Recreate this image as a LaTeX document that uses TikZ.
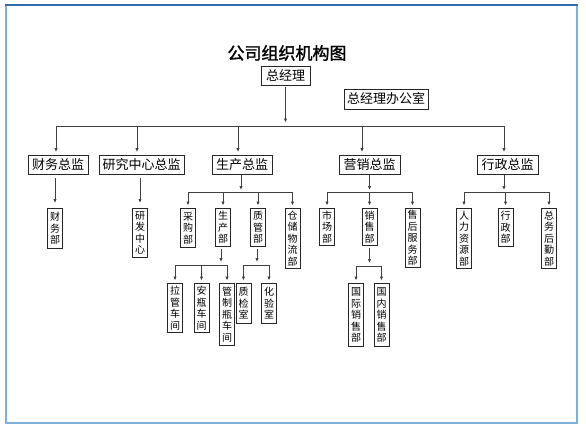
\documentclass[tikz,border=0pt]{standalone}
\usepackage{fontspec}
\setmainfont{Noto Sans CJK SC}
\newfontfamily\titlefont[FakeBold=1.6]{Noto Sans CJK SC}
\usetikzlibrary{arrows.meta}
\definecolor{framedark}{HTML}{2E6DAE}
\definecolor{framelight}{HTML}{7DB0DC}
\tikzset{
  hbox/.style={draw=black!85, line width=0.9pt, inner sep=0pt, minimum height=19pt,
    font=\fontsize{13}{14}\selectfont},
  vbox/.style={draw=black!85, line width=0.9pt, inner sep=0pt, minimum width=15pt,
    minimum height=#1, align=center, anchor=north, font=\fontsize{10}{11.5}\selectfont},
  conn/.style={draw=black!75, line width=0.8pt},
  arr/.style={conn, -{Latex[length=4pt,width=3.4pt]}},
}
\begin{document}
\begin{tikzpicture}[x=1pt,y=-1pt]
\useasboundingbox (0,0) rectangle (586,439);
% frame
\draw[framelight, line width=2pt] (6,5) -- (6,423) -- (577,423) -- (577,5);
\draw[framedark, line width=1.6pt] (5,5) -- (578,5);
% bus coordinates
\coordinate (bus1) at (0,126);
\coordinate (bus2) at (0,192);
\coordinate (bus3) at (0,265);
\coordinate (bus3b) at (0,266);
% title and top
\node[font=\fontsize{17}{18}\selectfont\titlefont] (title) at (287,53) {公司组织机构图};
\node[hbox, minimum width=49pt] (zjl) at (285.5,75.5) {总经理};
\node[hbox, minimum width=84pt, minimum height=20pt] (zjlb) at (386,99) {总经理办公室};
% level 2
\node[hbox, minimum width=60pt] (cw) at (58,164.5) {财务总监};
\node[hbox, minimum width=85pt] (yj) at (141.5,164.5) {研究中心总监};
\node[hbox, minimum width=60pt] (sc) at (242,164.5) {生产总监};
\node[hbox, minimum width=61pt] (yx) at (369.5,164.5) {营销总监};
\node[hbox, minimum width=61pt] (xz) at (507.5,164.5) {行政总监};
% level 3
\node[vbox=40pt] (cwb) at (55,208) {财\\务\\部};
\node[vbox=49pt] (yfzx) at (140,208) {研\\发\\中\\心};
\node[vbox=39pt] (cg) at (188,208) {采\\购\\部};
\node[vbox=38pt] (scb) at (223,208) {生\\产\\部};
\node[vbox=38pt] (zg) at (258,208) {质\\管\\部};
\node[vbox=60pt] (cc) at (292.5,208) {仓\\储\\物\\流\\部};
\node[vbox=37pt] (scc) at (327,208) {市\\场\\部};
\node[vbox=37pt] (xs) at (369.5,208) {销\\售\\部};
\node[vbox=59pt] (sh) at (412.5,208) {售\\后\\服\\务\\部};
\node[vbox=60pt] (rl) at (464,208) {人\\力\\资\\源\\部};
\node[vbox=38pt] (xzb) at (505.5,208) {行\\政\\部};
\node[vbox=60pt] (zw) at (549,208) {总\\务\\后\\勤\\部};
% level 4
\node[vbox=49pt] (lg) at (175,283) {拉\\管\\车\\间};
\node[vbox=49pt] (ap) at (201.5,283) {安\\瓶\\车\\间};
\node[vbox=62pt] (gz) at (227,283) {管\\制\\瓶\\车\\间};
\node[vbox=40pt] (zj) at (243.5,283) {质\\检\\室};
\node[vbox=40pt] (hy) at (269,283) {化\\验\\室};
\node[vbox=63pt] (gj) at (356,283) {国\\际\\销\\售\\部};
\node[vbox=63pt] (gn) at (381.5,283) {国\\内\\销\\售\\部};
% top connectors
\draw[arr, shorten <=1.5pt, shorten >=3.5pt] (zjl.south) -- (zjl.south |- bus1);
\draw[conn] ([xshift=-2pt]cw.north |- bus1) -- ([xshift=-3.5pt]xz.north |- bus1);
\foreach \n/\s in {cw/-2pt,yj/-4.5pt,sc/-4pt,yx/-7.5pt,xz/-3.5pt}
  \draw[arr, shorten >=2.5pt] ([xshift=\s]\n.north |- bus1) -- ([xshift=\s]\n.north);
% level 2 -> 3
\draw[arr, shorten <=4pt, shorten >=5pt] (cwb.north |- cw.south) -- (cwb.north);
\draw[arr, shorten <=4pt, shorten >=5pt] (yfzx.north |- yj.south) -- (yfzx.north);
\draw[arr, shorten <=1pt, shorten >=2pt] ([xshift=-1pt]sc.south) -- ([xshift=-1pt]sc.south |- bus2);
\draw[conn] (cg.north |- bus2) -- (cc.north |- bus2);
\foreach \n in {cg,scb,zg,cc}
  \draw[arr, shorten >=2.5pt] (\n.north |- bus2) -- (\n.north);
\draw[arr, shorten <=1pt, shorten >=2pt] (yx.south) -- (yx.south |- bus2);
\draw[conn] (scc.north |- bus2) -- (sh.north |- bus2);
\foreach \n in {scc,xs,sh}
  \draw[arr, shorten >=2.5pt] (\n.north |- bus2) -- (\n.north);
\draw[arr, shorten <=1pt, shorten >=2pt] ([xshift=-3.5pt]xz.south) -- ([xshift=-3.5pt]xz.south |- bus2);
\draw[conn] (rl.north |- bus2) -- (zw.north |- bus2);
\foreach \n in {rl,xzb,zw}
  \draw[arr, shorten >=2.5pt] (\n.north |- bus2) -- (\n.north);
% level 3 -> 4
\draw[arr, shorten <=2pt, shorten >=3pt] ([xshift=-2pt]scb.south) -- ([xshift=-2pt]scb.south |- bus3);
\draw[conn] (lg.north |- bus3) -- (gz.north |- bus3);
\foreach \n in {lg,ap,gz}
  \draw[arr, shorten >=2.5pt] (\n.north |- bus3) -- (\n.north);
\draw[arr, shorten <=2pt, shorten >=3pt] ([xshift=-1pt]zg.south) -- ([xshift=-1pt]zg.south |- bus3);
\draw[conn] (zj.north |- bus3) -- (hy.north |- bus3);
\foreach \n in {zj,hy}
  \draw[arr, shorten >=2.5pt] (\n.north |- bus3) -- (\n.north);
\draw[arr, shorten <=2pt, shorten >=3pt] (xs.south) -- (xs.south |- bus3b);
\draw[conn] (gj.north |- bus3b) -- (gn.north |- bus3b);
\foreach \n in {gj,gn}
  \draw[arr, shorten >=2.5pt] (\n.north |- bus3b) -- (\n.north);
\end{tikzpicture}
\end{document}
